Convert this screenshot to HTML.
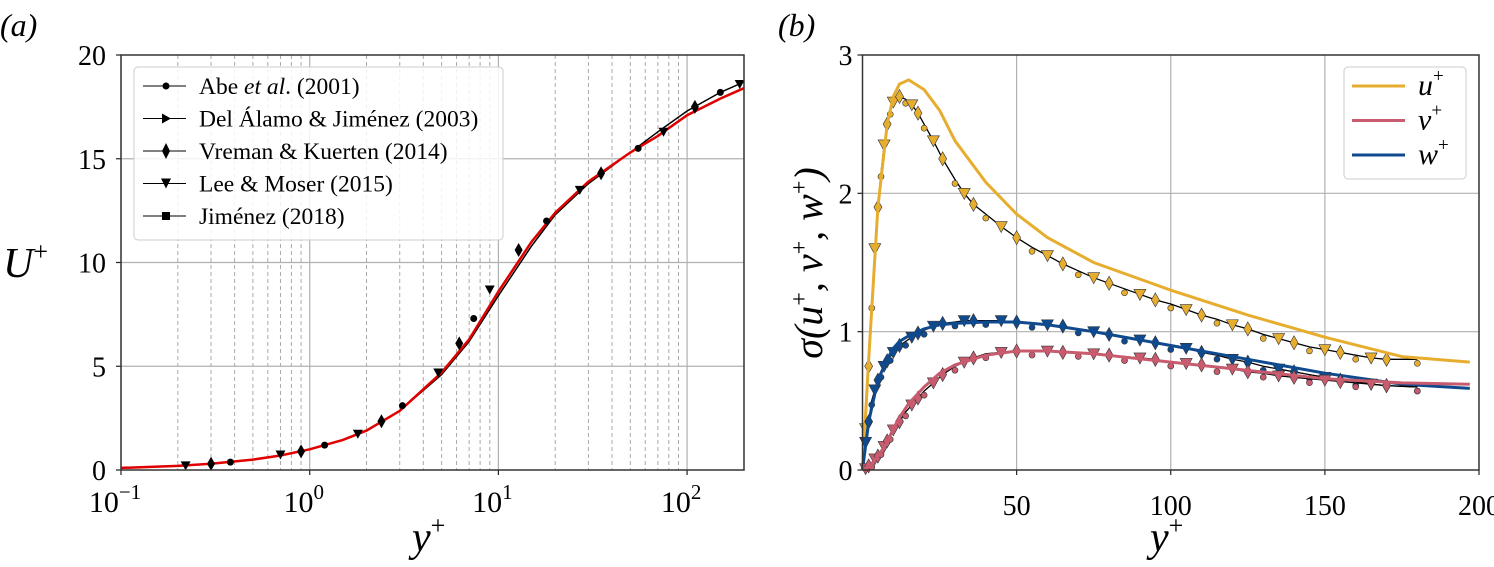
<!DOCTYPE html>
<html><head><meta charset="utf-8">
<style>
html,body{margin:0;padding:0;background:#fff;}
svg{display:block;font-family:"Liberation Serif",serif;}
</style></head>
<body>
<svg id="fig" width="1494" height="567" viewBox="0 0 1494 567" xmlns="http://www.w3.org/2000/svg">
<text x="0" y="36" font-size="32" font-style="italic">(a)</text>
<text x="778" y="36" font-size="32" font-style="italic">(b)</text>
<g id="pa"></g>
<g id="pb"></g>
</svg>
<script>
// ---- Panel A data ----
const aY = [0.1,0.2,0.3,0.5,0.7,1,1.5,2,3,5,7,10,15,20,30,50,70,100,150,200];
const aURed = [0.1,0.2,0.3,0.5,0.7,1.0,1.45,1.9,2.85,4.7,6.3,8.6,11.0,12.4,13.9,15.3,16.1,17.1,17.9,18.4];
const aUDns = [0.1,0.2,0.3,0.5,0.7,1.0,1.45,1.9,2.85,4.6,6.2,8.4,10.8,12.3,13.8,15.3,16.3,17.3,18.2,18.7];
const aMarkY = [0.22,0.3,0.38,0.7,0.9,1.2,1.8,2.4,3.1,4.8,6.2,7.4,9.0,12.8,18,27,35,55,75,110,150,190];
const aMarkU = [0.22,0.3,0.38,0.75,0.9,1.2,1.75,2.35,3.1,4.7,6.1,7.3,8.7,10.6,12.0,13.5,14.3,15.5,16.3,17.5,18.2,18.6];
const aXTicks = [-1,0,1,2];
const aYTicks = [0,5,10,15,20];
// ---- Panel B data ----
const bY = [0,2,5,8,10,12,15,20,25,30,40,50,60,75,100,125,150,175,197];
const bU = [0,0.8,1.9,2.5,2.7,2.79,2.82,2.75,2.6,2.38,2.08,1.85,1.68,1.5,1.3,1.12,0.96,0.82,0.78];
const bV = [0,0.02,0.1,0.2,0.3,0.38,0.48,0.6,0.7,0.76,0.83,0.86,0.86,0.84,0.78,0.72,0.66,0.63,0.62];
const bW = [0,0.35,0.65,0.8,0.88,0.93,0.97,1.02,1.05,1.06,1.07,1.07,1.05,1.0,0.9,0.8,0.7,0.62,0.59];
const bDY = [1,2,3,4,5,6,7,8,9,10,12,14,16,18,20,23,26,30,33,36,40,45,50,55,60,65,70,75,80,85,90,95,100,105,110,115,120,125,130,135,140,145,150,155,160,165,170,180];
const bDU = [0.3,0.75,1.2,1.6,1.9,2.15,2.35,2.5,2.6,2.66,2.7,2.68,2.64,2.58,2.5,2.38,2.25,2.1,2.0,1.92,1.85,1.76,1.68,1.61,1.55,1.49,1.44,1.39,1.35,1.31,1.27,1.23,1.2,1.16,1.12,1.09,1.05,1.02,0.98,0.95,0.92,0.89,0.87,0.85,0.83,0.81,0.8,0.8];
const bDV = [0.01,0.03,0.05,0.08,0.1,0.14,0.17,0.21,0.25,0.29,0.35,0.42,0.47,0.52,0.57,0.63,0.69,0.75,0.78,0.81,0.84,0.85,0.86,0.86,0.86,0.85,0.85,0.84,0.83,0.82,0.81,0.8,0.78,0.77,0.76,0.74,0.73,0.71,0.7,0.68,0.67,0.66,0.65,0.64,0.63,0.62,0.61,0.6];
const bDW = [0.2,0.35,0.5,0.58,0.65,0.7,0.75,0.79,0.82,0.85,0.9,0.93,0.96,0.99,1.01,1.04,1.06,1.07,1.08,1.08,1.08,1.08,1.07,1.06,1.05,1.04,1.02,1.0,0.98,0.96,0.94,0.92,0.9,0.88,0.85,0.83,0.8,0.78,0.75,0.73,0.71,0.69,0.67,0.65,0.64,0.62,0.61,0.6];
const bXTicks = [50,100,150,200];
const bYTicks = [0,1,2,3];

const NS="http://www.w3.org/2000/svg";
function mk(parent,tag,attrs,text){const e=document.createElementNS(NS,tag);for(const k in attrs)e.setAttribute(k,attrs[k]);if(text!==undefined)e.textContent=text;parent.appendChild(e);return e;}

// ---- Panel A ----
const pa=document.getElementById('pa');
const AL=121,AR=744,AT=55,AB=470,DEC=188.7;
const axA=v=>AL+(Math.log10(v)+1)*DEC;
const ayA=v=>AB-(v/20)*(AB-AT);
for(let d=-1;d<=2;d++)for(let m=2;m<=9;m++){const v=m*Math.pow(10,d);if(v>200)continue;const x=axA(v);
 const l=mk(pa,'line',{x1:x,x2:x,y1:AT,y2:AB,stroke:'#aaa','stroke-width':1,'stroke-dasharray':'4,3'});
 }
aXTicks.forEach(t=>{const x=axA(Math.pow(10,t));
 const l=mk(pa,'line',{x1:x,x2:x,y1:AT,y2:AB,stroke:'#b0b0b0','stroke-width':1.2});
 mk(pa,'line',{x1:x,x2:x,y1:AB,y2:AB+5,stroke:'#222','stroke-width':1.2});
 const g=mk(pa,'text',{x:x-6,y:512,'font-size':30,'text-anchor':'middle'});
 mk(g,'tspan',{},'10');mk(g,'tspan',{dy:-13,'font-size':21},t<0?'−1':String(t));});
aYTicks.forEach(t=>{const y=ayA(t);
 if(t>0&&t<20){const l=mk(pa,'line',{x1:AL,x2:AR,y1:y,y2:y,stroke:'#b0b0b0','stroke-width':1.2});}
 mk(pa,'line',{x1:AL-5,x2:AL,y1:y,y2:y,stroke:'#222','stroke-width':1.2});
 const tx=mk(pa,'text',{x:106,y:y+10,'font-size':28,'text-anchor':'end'},String(t));});
let p='';aY.forEach((v,i)=>p+=(i?'L':'M')+axA(v).toFixed(1)+','+ayA(aUDns[i]).toFixed(1));
let l1=mk(pa,'path',{d:p,fill:'none',stroke:'#000','stroke-width':1.5});
p='';aY.forEach((v,i)=>p+=(i?'L':'M')+axA(v).toFixed(1)+','+ayA(aURed[i]).toFixed(1));
let l2=mk(pa,'path',{d:p,fill:'none',stroke:'#e00000','stroke-width':2.5});
aMarkY.forEach((v,i)=>{const x=axA(v),y=ayA(aMarkU[i]);const sh=i%3;let e;
 if(sh==0)e=mk(pa,'path',{d:`M${x-5},${y-4}L${x+5},${y-4}L${x},${y+5}Z`,fill:'#000'});
 else if(sh==1)e=mk(pa,'path',{d:`M${x},${y-7}L${x+4},${y}L${x},${y+7}L${x-4},${y}Z`,fill:'#000'});
 else e=mk(pa,'circle',{cx:x,cy:y,r:3.5,fill:'#000'});
 });
let fa=mk(pa,'rect',{x:AL,y:AT,width:AR-AL,height:AB-AT,fill:'none',stroke:'#333','stroke-width':1.5});
// legend A
const lgA=mk(pa,'g',{});
mk(lgA,'rect',{x:134,y:67,width:369,height:173,rx:4,fill:'#fff','fill-opacity':0.85,stroke:'#ccc'});
const labs=['Abe <i>et al</i>. (2001)','Del Álamo &amp; Jiménez (2003)','Vreman &amp; Kuerten (2014)','Lee &amp; Moser (2015)','Jiménez (2018)'];
labs.forEach((s,i)=>{const y=86+i*32.5;const g=mk(lgA,'g',{});
 mk(g,'line',{x1:143,x2:186,y1:y,y2:y,stroke:'#000','stroke-width':1});
 if(i==0)mk(g,'circle',{cx:166,cy:y,r:3.5});
 if(i==1)mk(g,'path',{d:`M162,${y-5}L171,${y}L162,${y+5}Z`});
 if(i==2)mk(g,'path',{d:`M166,${y-8}L170,${y}L166,${y+8}L162,${y}Z`});
 if(i==3)mk(g,'path',{d:`M161,${y-5}L171,${y-5}L166,${y+5}Z`});
 if(i==4)mk(g,'rect',{x:162,y:y-4,width:8,height:8});
 const t=mk(g,'text',{x:199,y:y+8,'font-size':23.5});t.innerHTML=s.replace(/<i>(.*?)<\/i>/,'<tspan font-style="italic">$1</tspan>');});
let ya=mk(pa,'text',{x:3,y:277,'font-size':42,'font-style':'italic'});
mk(ya,'tspan',{},'U');mk(ya,'tspan',{dy:-17,'font-size':26,'font-style':'normal'},'+');
let xa=mk(pa,'text',{x:412,y:551,'font-size':42,'font-style':'italic'});
mk(xa,'tspan',{},'y');mk(xa,'tspan',{dy:-17,'font-size':26,'font-style':'normal'},'+');

// ---- Panel B ----
const pb=document.getElementById('pb');
const BL=862.5,BR=1479,BT=55,BB=470;
const axB=v=>BL+v/200*(BR-BL);
const ayB=v=>BB-v/3*(BB-BT);
bXTicks.forEach(t=>{const x=axB(t);
 if(t<200){const l=mk(pb,'line',{x1:x,x2:x,y1:BT,y2:BB,stroke:'#b0b0b0','stroke-width':1.2});}
 mk(pb,'line',{x1:x,x2:x,y1:BB,y2:BB+5,stroke:'#222','stroke-width':1.2});
 const tx=mk(pb,'text',{x:x,y:515,'font-size':28,'text-anchor':'middle'},String(t));});
bYTicks.forEach(t=>{const y=ayB(t);
 if(t>0&&t<3){const l=mk(pb,'line',{x1:BL,x2:BR,y1:y,y2:y,stroke:'#b0b0b0','stroke-width':1.2});}
 mk(pb,'line',{x1:BL-5,x2:BL,y1:y,y2:y,stroke:'#222','stroke-width':1.2});
 const tx=mk(pb,'text',{x:BL-10,y:y+10,'font-size':28,'text-anchor':'end'},String(t));});
const series=[[bDU,bU,'#e6ad2e','u'],[bDW,bW,'#0f4a8e','w'],[bDV,bV,'#c95b6e','v']];
series.forEach(([dv,mv,col,nm])=>{
 let d='';bDY.forEach((v,i)=>d+=(i?'L':'M')+axB(v).toFixed(1)+','+ayB(dv[i]).toFixed(1));
 let k=mk(pb,'path',{d:d,fill:'none',stroke:'#000','stroke-width':1.3});
 bDY.forEach((v,i)=>{const x=axB(v),y=ayB(dv[i]);let e;
  if(i%3==0)e=mk(pb,'path',{d:`M${x-6},${y-5}L${x+6},${y-5}L${x},${y+6}Z`,fill:col,stroke:'#333','stroke-width':0.6});
  else if(i%3==1)e=mk(pb,'path',{d:`M${x},${y-7}L${x+4},${y}L${x},${y+7}L${x-4},${y}Z`,fill:col,stroke:'#333','stroke-width':0.6});
  else e=mk(pb,'circle',{cx:x,cy:y+4,r:3,fill:col,stroke:'#333','stroke-width':0.6});
  });
 d='';bY.forEach((v,i)=>d+=(i?'L':'M')+axB(v).toFixed(1)+','+ayB(mv[i]).toFixed(1));
 let m=mk(pb,'path',{d:d,fill:'none',stroke:col,'stroke-width':3});
});
let fb=mk(pb,'rect',{x:BL,y:BT,width:BR-BL,height:BB-BT,fill:'none',stroke:'#333','stroke-width':1.5});
const lgB=mk(pb,'g',{});
mk(lgB,'rect',{x:1344,y:67,width:122,height:112,rx:4,fill:'#fff','fill-opacity':0.85,stroke:'#ccc'});
[['u','#e6ad2e'],['v','#c95b6e'],['w','#0f4a8e']].forEach(([s,c],i)=>{const y=86+i*34.5;const g=mk(lgB,'g',{});
 mk(g,'line',{x1:1352,x2:1405,y1:y,y2:y,stroke:c,'stroke-width':3});
 const t=mk(g,'text',{x:1418,y:y+9,'font-size':30,'font-style':'italic'});mk(t,'tspan',{},s);mk(t,'tspan',{dy:-13,'font-size':19,'font-style':'normal'},'+');});
let yb=mk(pb,'text',{x:0,y:0,'font-size':40,'font-style':'italic','text-anchor':'middle',transform:'translate(822,263) rotate(-90)'});
yb.innerHTML='σ(u<tspan dy="-15" font-size="24" font-style="normal">+</tspan><tspan dy="15">, v</tspan><tspan dy="-15" font-size="24" font-style="normal">+</tspan><tspan dy="15">, w</tspan><tspan dy="-15" font-size="24" font-style="normal">+</tspan><tspan dy="15">)</tspan>';
let xb=mk(pb,'text',{x:1150,y:551,'font-size':42,'font-style':'italic'});
mk(xb,'tspan',{},'y');mk(xb,'tspan',{dy:-17,'font-size':26,'font-style':'normal'},'+');
</script>
</body></html>
